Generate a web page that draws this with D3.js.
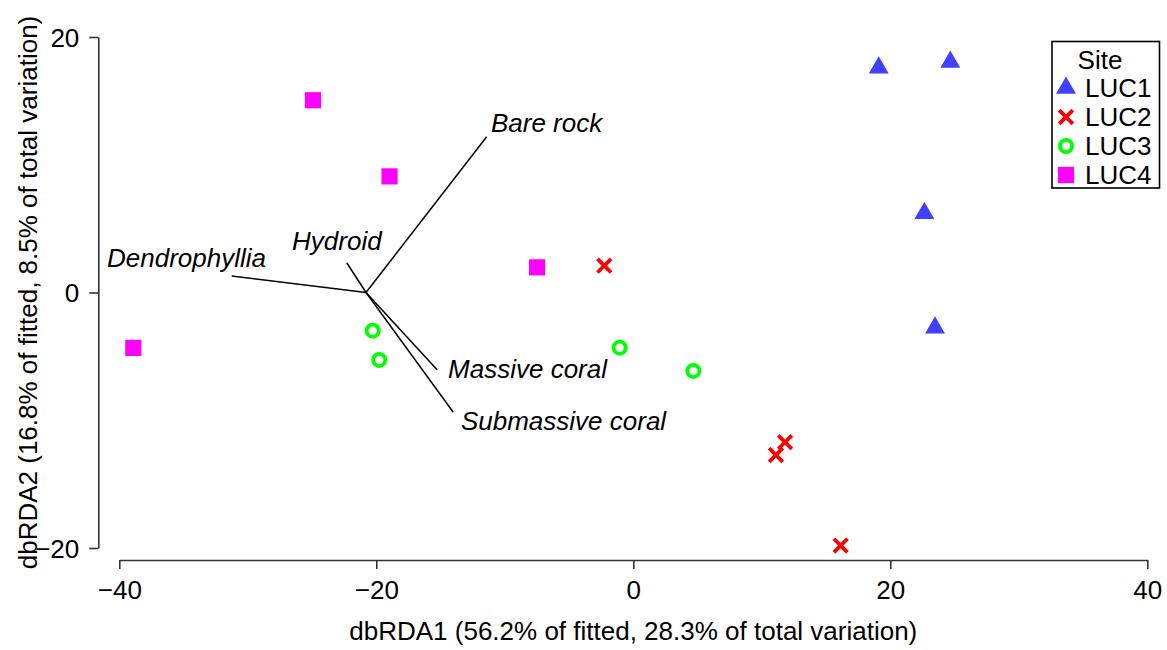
<!DOCTYPE html>
<html>
<head>
<meta charset="utf-8">
<script src="https://cdn.jsdelivr.net/npm/d3@7"></script>
<style>
  html, body { margin: 0; padding: 0; background: #fff; }
  svg { display: block; font-family: "Liberation Sans", Arial, Helvetica, sans-serif; }
</style>
</head>
<body>
<svg id="chart" width="1167" height="650"></svg>
<script>
// ---- data ----
const sites = ["LUC1", "LUC2", "LUC3", "LUC4"];
const siteColors = ["#4040FF", "#FF0000", "#00FF00", "#FF00FF"];
const siteShapes = ["triangle", "cross", "circle", "square"];

const luc1X = [19.10, 24.67, 22.65, 23.48];
const luc1Y = [17.60, 18.04, 6.21, -2.75];
const luc2X = [-2.26, 11.81, 11.10, 16.14];
const luc2Y = [2.10, -11.72, -12.72, -19.81];
const luc3X = [-20.28, -19.77, -1.06, 4.67];
const luc3Y = [-2.99, -5.28, -4.32, -6.14];
const luc4X = [-24.93, -18.97, -7.49, -38.91];
const luc4Y = [15.05, 9.09, 1.97, -4.34];

const vectorOrigin = [-20.80, 0];
const vectorNames = ["Bare rock", "Dendrophyllia", "Hydroid", "Massive coral", "Submassive coral"];
const vectorEndX = [-11.41, -31.25, -22.30, -15.25, -14.01];
const vectorEndY = [12.19, 1.29, 2.33, -6.06, -9.37];
const vectorLabelX = [-6.75, -34.77, -23.07, -8.23, -5.43];
const vectorLabelY = [12.56, 2.00, 3.33, -6.69, -10.76];

const xTicks = [-40, -20, 0, 20, 40];
const yTicks = [-20, 0, 20];
const xTitle = "dbRDA1 (56.2% of fitted, 28.3% of total variation)";
const yTitle = "dbRDA2 (16.8% of fitted, 8.5% of total variation)";
const legendTitle = "Site";

// ---- drawing ----
const svg = d3.select("#chart");
const x = d3.scaleLinear().domain([-40, 40]).range([119.3, 1147.3]);
const y = d3.scaleLinear().domain([-20, 20]).range([548, 37]);
const axisColor = "#333";
const fs = 26;

// x axis
const xAxisY = 560;
const xg = svg.append("g").attr("transform", `translate(0,${xAxisY})`)
  .call(d3.axisBottom(x).tickValues(xTicks).tickSize(9).tickSizeOuter(0)
    .tickFormat(d => d < 0 ? "\u2212" + Math.abs(d) : d));
xg.select(".domain").attr("stroke", axisColor).attr("stroke-width", 1.6);
xg.selectAll(".tick line").attr("stroke", axisColor).attr("stroke-width", 1.6);
xg.selectAll(".tick text").attr("font-size", fs).attr("font-family", "Liberation Sans, Arial, sans-serif")
  .attr("fill", "#000").attr("dy", null).attr("y", 39);

// y axis
const yAxisX = 98.3;
const yg = svg.append("g").attr("transform", `translate(${yAxisX},0)`)
  .call(d3.axisLeft(y).tickValues(yTicks).tickSize(9).tickSizeOuter(0)
    .tickFormat(d => d < 0 ? "\u2212" + Math.abs(d) : d));
yg.select(".domain").attr("stroke", axisColor).attr("stroke-width", 1.6);
yg.selectAll(".tick line").attr("stroke", axisColor).attr("stroke-width", 1.6);
yg.selectAll(".tick text").attr("font-size", fs).attr("font-family", "Liberation Sans, Arial, sans-serif")
  .attr("fill", "#000").attr("x", -19).attr("dy", "0.35em");

// axis titles
svg.append("text").attr("x", (x(-40) + x(40)) / 2).attr("y", 640)
  .attr("text-anchor", "middle").attr("font-size", fs).text(xTitle);
svg.append("text").attr("transform", `translate(36.5,${(y(-20) + y(20)) / 2}) rotate(-90)`)
  .attr("text-anchor", "middle").attr("font-size", fs).text(yTitle);

// vectors
const vg = svg.append("g");
vectorNames.forEach((n, i) => {
  vg.append("line")
    .attr("x1", x(vectorOrigin[0])).attr("y1", y(vectorOrigin[1]))
    .attr("x2", x(vectorEndX[i])).attr("y2", y(vectorEndY[i]))
    .attr("stroke", "#000").attr("stroke-width", 1.5);
  vg.append("text")
    .attr("x", x(vectorLabelX[i])).attr("y", y(vectorLabelY[i]))
    .attr("text-anchor", "middle").attr("font-size", fs).attr("font-style", "italic")
    .text(n);
});

// markers
function drawMarker(g, shape, color, cx, cy) {
  if (shape === "triangle") {
    const r = 11.5, xc = r * Math.sqrt(3) / 2, yc = r / 2;
    g.append("path").attr("d", `M${cx},${cy - r}L${cx + xc},${cy + yc}L${cx - xc},${cy + yc}Z`)
      .attr("fill", color);
  } else if (shape === "cross") {
    const s = 6.8;
    g.append("path").attr("d", `M${cx - s},${cy - s}L${cx + s},${cy + s}M${cx - s},${cy + s}L${cx + s},${cy - s}`)
      .attr("stroke", color).attr("stroke-width", 3.8).attr("fill", "none");
  } else if (shape === "circle") {
    g.append("circle").attr("cx", cx).attr("cy", cy).attr("r", 6.1)
      .attr("fill", "none").attr("stroke", color).attr("stroke-width", 3.8);
  } else if (shape === "square") {
    const h = 8.1;
    g.append("rect").attr("x", cx - h).attr("y", cy - h).attr("width", 2 * h).attr("height", 2 * h)
      .attr("fill", color);
  }
}

const allX = [luc1X, luc2X, luc3X, luc4X];
const allY = [luc1Y, luc2Y, luc3Y, luc4Y];
const pg = svg.append("g");
sites.forEach((s, k) => {
  allX[k].forEach((vx, i) => drawMarker(pg, siteShapes[k], siteColors[k], x(vx), y(allY[k][i])));
});

// legend
const lg = svg.append("g");
lg.append("rect").attr("x", 1052).attr("y", 41.5).attr("width", 107.5).attr("height", 146.5)
  .attr("fill", "#fff").attr("stroke", "#000").attr("stroke-width", 1.6);
lg.append("text").attr("x", 1100).attr("y", 60).attr("dy", "0.35em")
  .attr("text-anchor", "middle").attr("font-size", fs).text(legendTitle);
sites.forEach((s, k) => {
  const cy = 88 + k * 29;
  drawMarker(lg, siteShapes[k], siteColors[k], 1066, cy);
  lg.append("text").attr("x", 1085).attr("y", cy).attr("dy", "0.35em")
    .attr("font-size", fs).text(s);
});
</script>
</body>
</html>
